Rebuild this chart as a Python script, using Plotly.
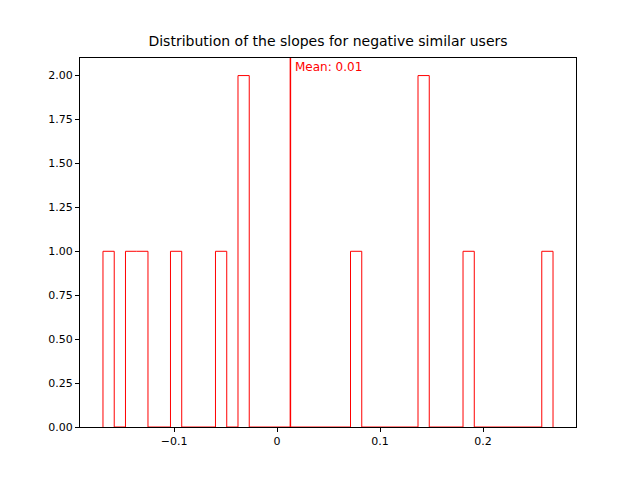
import numpy as np
import plotly.graph_objects as go

# slopes (40 bins between min and max)
slopes = [-0.169, -0.1417, -0.1308, -0.0981, -0.0544, -0.0326, -0.0330,
          0.0766, 0.1421, 0.1430, 0.1858, 0.268]
n_bins = 40

counts, edges = np.histogram(slopes, bins=n_bins)
mean = float(np.mean(slopes))

# step outline like matplotlib histtype="step"
xs = [edges[0]]
ys = [0]
for c, lo, hi in zip(counts, edges[:-1], edges[1:]):
    xs += [lo, hi]
    ys += [c, c]
xs.append(edges[-1])
ys.append(0)

fig = go.Figure()
fig.add_trace(go.Scatter(x=xs, y=ys, mode="lines",
                         line=dict(color="red", width=1), showlegend=False))
fig.add_shape(type="line", x0=mean, x1=mean, y0=0, y1=1, yref="paper",
              line=dict(color="red", width=1.5))
fig.add_annotation(x=mean, y=2.0, text=f"Mean: {mean:.2f}", showarrow=False,
                   xanchor="left", yanchor="bottom", xshift=3,
                   font=dict(color="red", size=12))

axis = dict(showgrid=False, zeroline=False, showline=True, mirror=True,
            linecolor="black", linewidth=1, ticks="outside", ticklen=4,
            tickcolor="black", tickfont=dict(size=11, color="black"))
fig.update_layout(
    width=640, height=480,
    margin=dict(l=72, r=72, t=50, b=61),
    plot_bgcolor="white", paper_bgcolor="white",
    font=dict(family="DejaVu Sans", color="black"),
    title=dict(text="Distribution of the slopes for negative similar users",
               x=0.5, xanchor="center", y=0.92, yanchor="bottom",
               font=dict(size=14)),
    xaxis=dict(range=[-0.1913, 0.2903], dtick=0.1, **axis),
    yaxis=dict(range=[0, 2.1], dtick=0.25, tickformat=".2f", **axis),
)
fig.write_html("out.html")
